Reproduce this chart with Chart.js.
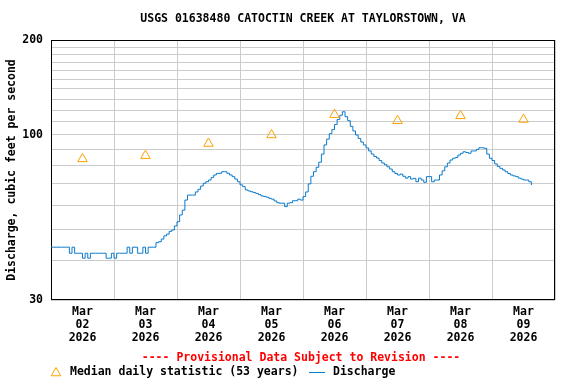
<!DOCTYPE html>
<html>
<head>
<meta charset="utf-8">
<script src="https://cdn.jsdelivr.net/npm/chart.js@4"></script>
<style>
  html, body { margin: 0; padding: 0; background: #fff; }
  #wrap { width: 576px; height: 384px; }
</style>
</head>
<body>
<div id="wrap"><canvas id="chart" width="576" height="384"></canvas></div>
<script>
const FONT = '"DejaVu Sans Mono", "Liberation Mono", monospace';

// days shown on the x axis (Mar 02 .. Mar 09, 2026)
const dayLabels = ['02', '03', '04', '05', '06', '07', '08', '09'];
// median daily statistic, one per day (plotted at noon)
const medianDaily = [84, 86, 94, 100, 116, 111, 115, 112];
// hourly discharge (cfs) from Mar 02 00:00
const discharge = [
  44.1, 44.1, 44.1, 44.1, 44.1, 44.1, 44.1, 42.2, 44.1, 42.2, 42.2, 42.2,
  40.7, 42.2, 40.7, 42.2, 42.2, 42.2, 42.2, 42.2, 42.2, 40.7, 40.7, 42.2,
  40.7, 42.2, 42.2, 42.2, 42.2, 44.1, 42.2, 44.1, 44.1, 42.2, 42.2, 44.1,
  42.2, 44.1, 44.1, 44.1, 45.6, 45.9, 46.8, 47.9, 48.5, 49.5, 50.0, 51.5,
  53.1, 55.8, 57.8, 62.2, 64.5, 64.5, 64.5, 66.0, 67.3, 68.9, 70.3, 71.1,
  72.0, 73.4, 74.7, 75.6, 75.6, 76.5, 76.5, 75.6, 74.7, 73.8, 72.5, 71.1,
  69.5, 68.6, 67.0, 66.5, 66.1, 65.7, 65.3, 64.7, 64.1, 63.8, 63.5, 63.0,
  62.6, 61.8, 61.0, 60.8, 60.8, 59.3, 60.8, 61.0, 61.9, 61.9, 62.6, 62.2,
  63.8, 66.0, 70.0, 74.0, 76.5, 79.0, 82.0, 87.0, 93.0, 97.0, 101.0, 104.0,
  108.0, 112.0, 115.5, 118.5, 114.3, 111.0, 106.5, 103.0, 100.0, 97.5, 95.0, 93.0,
  91.0, 89.0, 87.0, 85.5, 84.5, 83.0, 81.5, 80.5, 79.3, 78.0, 76.5, 75.5,
  74.7, 75.2, 74.0, 73.0, 73.8, 72.5, 72.9, 71.1, 73.0, 72.0, 70.8, 73.8,
  73.8, 71.1, 72.0, 72.0, 74.7, 77.0, 79.3, 81.5, 83.3, 84.4, 84.8, 86.4,
  87.5, 88.5, 88.0, 87.5, 89.0, 89.0, 90.0, 91.1, 91.1, 90.7, 87.0, 84.4,
  83.0, 81.0, 79.5, 78.4, 77.5, 76.5, 75.5, 74.7, 74.2, 73.8, 73.0, 72.5,
  72.0, 72.0, 71.1, 69.4
];
const yGrid = [30, 40, 50, 60, 70, 80, 90, 100, 110, 120, 130, 140, 150, 160, 170, 180, 190, 200];
const yLabeled = [30, 100, 200];

const BLUE = '#0a7acc';
const ORANGE = '#ffa000';

const overlay = {
  id: 'overlay',
  beforeDatasetsDraw(chart) {
    const { ctx, chartArea: a } = chart;
    ctx.save();
    ctx.strokeStyle = '#000';
    ctx.lineWidth = 1;
    ctx.strokeRect(Math.round(a.left) + 0.5, Math.round(a.top) + 0.5,
      Math.round(a.right - a.left) - 1, Math.round(a.bottom - a.top) - 1);
    ctx.restore();
  },
  afterDraw(chart) {
    const { ctx, chartArea: a } = chart;
    ctx.save();
    ctx.font = 'bold 11.5px ' + FONT;
    ctx.textBaseline = 'middle';
    ctx.textAlign = 'center';
    ctx.fillStyle = '#000';
    ctx.fillText('USGS 01638480 CATOCTIN CREEK AT TAYLORSTOWN, VA', (a.left + a.right) / 2, 19);

    ctx.fillStyle = '#ff0000';
    ctx.fillText('---- Provisional Data Subject to Revision ----', 301, 358);

    // legend
    ctx.textAlign = 'left';
    ctx.fillStyle = '#000';
    const r = 5.5;
    const tx = 56, ty = 373;
    ctx.strokeStyle = ORANGE;
    ctx.lineWidth = 1;
    ctx.beginPath();
    for (let i = 0; i < 3; i++) {
      const ang = i * 2 * Math.PI / 3;
      const px = tx + Math.sin(ang) * r, py = ty - Math.cos(ang) * r;
      if (i === 0) ctx.moveTo(px, py); else ctx.lineTo(px, py);
    }
    ctx.closePath();
    ctx.stroke();
    ctx.fillText('Median daily statistic (53 years)', 70, 372);
    ctx.strokeStyle = BLUE;
    ctx.beginPath();
    ctx.moveTo(309, 372.5);
    ctx.lineTo(325, 372.5);
    ctx.stroke();
    ctx.fillText('Discharge', 333, 372);
    ctx.restore();
  }
};

new Chart(document.getElementById('chart'), {
  type: 'line',
  data: {
    datasets: [
      {
        label: 'Median daily statistic (53 years)',
        data: medianDaily.map((v, i) => ({ x: i * 24 + 12, y: v })),
        showLine: false,
        pointStyle: 'triangle',
        pointRadius: 5.5,
        pointBorderWidth: 1,
        pointBorderColor: ORANGE,
        pointBackgroundColor: 'rgba(0,0,0,0)'
      },
      {
        label: 'Discharge',
        data: discharge.map((v, i) => ({ x: i, y: v })),
        borderColor: BLUE,
        borderWidth: 1,
        pointRadius: 0,
        stepped: true,
        fill: false
      }
    ]
  },
  options: {
    responsive: false,
    animation: false,
    devicePixelRatio: 1,
    layout: { padding: { left: 0, right: 21, top: 40, bottom: 0 } },
    plugins: {
      legend: { display: false },
      tooltip: { enabled: false },
      title: { display: false }
    },
    scales: {
      x: {
        type: 'linear',
        min: 0,
        max: 192,
        afterFit(scale) { scale.height = 84; },
        ticks: {
          stepSize: 12,
          autoSkip: false,
          maxRotation: 0,
          padding: 6,
          color: '#000',
          font: { family: FONT, size: 11.5, weight: 'bold', lineHeight: 1.13 },
          callback(v) {
            if (v % 24 !== 12) return '';
            return ['Mar', dayLabels[(v - 12) / 24], '2026'];
          }
        },
        grid: {
          drawTicks: false,
          color: ctx => (ctx.tick && ctx.tick.value % 24 === 0) ? '#cccccc' : 'rgba(0,0,0,0)'
        },
        border: { display: false }
      },
      y: {
        type: 'logarithmic',
        min: 30,
        max: 200,
        afterFit(scale) { scale.width = 51; },
        afterBuildTicks(scale) { scale.ticks = yGrid.map(v => ({ value: v })); },
        ticks: {
          autoSkip: false,
          padding: 8,
          color: '#000',
          font: { family: FONT, size: 11.5, weight: 'bold' },
          callback(v) { return yLabeled.includes(v) ? String(v) : ''; }
        },
        grid: { drawTicks: false, color: '#cccccc' },
        border: { display: false },
        title: {
          display: true,
          text: 'Discharge, cubic feet per second',
          color: '#000',
          font: { family: FONT, size: 11.5, weight: 'bold' },
          padding: { top: 5, bottom: 0 }
        }
      }
    }
  },
  plugins: [overlay]
});
</script>
</body>
</html>
